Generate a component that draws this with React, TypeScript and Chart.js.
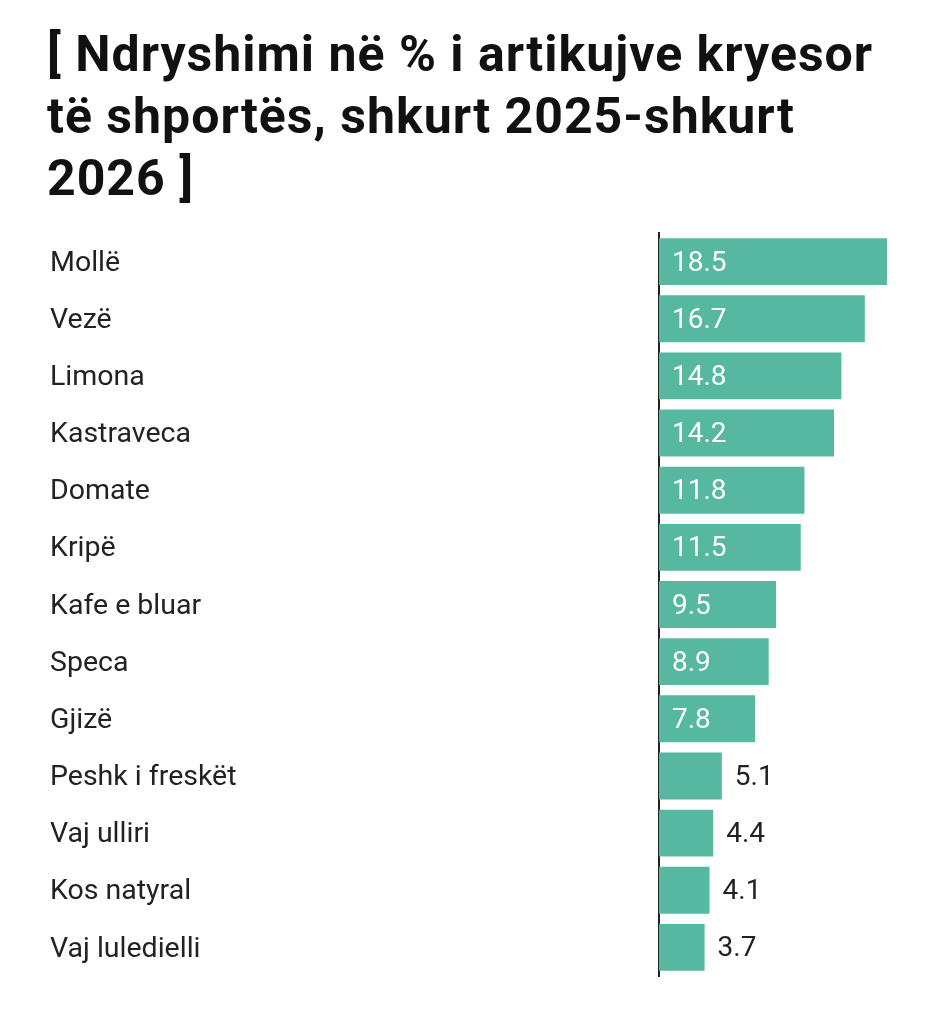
import React, { useEffect, useRef } from "react";
import { Chart, registerables } from "chart.js";

Chart.register(...registerables);

const titleLines = [
  "[ Ndryshimi në % i artikujve kryesor",
  "të shportës, shkurt 2025-shkurt",
  "2026 ]",
];

const categories = [
  "Mollë",
  "Vezë",
  "Limona",
  "Kastraveca",
  "Domate",
  "Kripë",
  "Kafe e bluar",
  "Speca",
  "Gjizë",
  "Peshk i freskët",
  "Vaj ulliri",
  "Kos natyral",
  "Vaj luledielli",
];

const values = [18.5, 16.7, 14.8, 14.2, 11.8, 11.5, 9.5, 8.9, 7.8, 5.1, 4.4, 4.1, 3.7];

const BAR_COLOR = "#56b89f";
const TEXT_COLOR = "#222222";
const INSIDE_THRESHOLD = 7;

const valueLabelPlugin = {
  id: "valueLabels",
  afterDatasetsDraw(chart: any) {
    const ctx = chart.ctx;
    const meta = chart.getDatasetMeta(0);
    ctx.save();
    ctx.font = "28px Roboto";
    ctx.textBaseline = "middle";
    ctx.textAlign = "left";
    meta.data.forEach((bar: any, i: number) => {
      const v = values[i];
      const inside = v >= INSIDE_THRESHOLD;
      const x = inside ? bar.base + 13 : bar.x + 13;
      ctx.fillStyle = inside ? "#ffffff" : TEXT_COLOR;
      ctx.fillText(v.toFixed(1), x, bar.y + 2);
    });
    ctx.restore();
  },
};

export default function App() {
  const canvasRef = useRef<HTMLCanvasElement | null>(null);

  useEffect(() => {
    if (!canvasRef.current) return;
    const chart = new Chart(canvasRef.current, {
      type: "bar",
      data: {
        labels: categories,
        datasets: [
          {
            data: values,
            backgroundColor: BAR_COLOR,
            borderWidth: 0,
            barPercentage: 0.82,
            categoryPercentage: 1,
          },
        ],
      },
      options: {
        indexAxis: "y",
        animation: false,
        responsive: false,
        maintainAspectRatio: false,
        layout: { padding: { left: 42, right: 42, top: 25, bottom: 32 } },
        plugins: {
          legend: { display: false },
          tooltip: { enabled: false },
          title: { display: false },
        },
        scales: {
          x: {
            display: false,
            min: 0,
            max: 18.5,
            grid: { display: false },
          },
          y: {
            afterFit(scale: any) {
              scale.width = 609;
            },
            grid: { display: false, drawTicks: false },
            border: { display: true, color: TEXT_COLOR, width: 2 },
            ticks: {
              crossAlign: "far",
              color: TEXT_COLOR,
              font: { family: "Roboto", size: 28.5 },
              padding: 0,
              labelOffset: 2,
            },
          },
        },
      },
      plugins: [valueLabelPlugin],
    });
    return () => chart.destroy();
  }, []);

  return (
    <div style={{ position: "relative", width: 921, height: 1008, background: "#fff" }}>
      <div
        style={{
          position: "absolute",
          left: 39,
          top: 15,
          fontFamily: "Roboto",
          fontWeight: 700,
          fontSize: 50,
          lineHeight: "62px",
          letterSpacing: "1px",
          color: "#111",
          whiteSpace: "nowrap",
        }}
      >
        {titleLines.map((l, i) => (
          <div key={i}>{l}</div>
        ))}
      </div>
      <div style={{ position: "absolute", left: 0, top: 200, width: 921, height: 800 }}>
        <canvas ref={canvasRef} width={921} height={800} style={{ width: 921, height: 800 }} />
      </div>
    </div>
  );
}
